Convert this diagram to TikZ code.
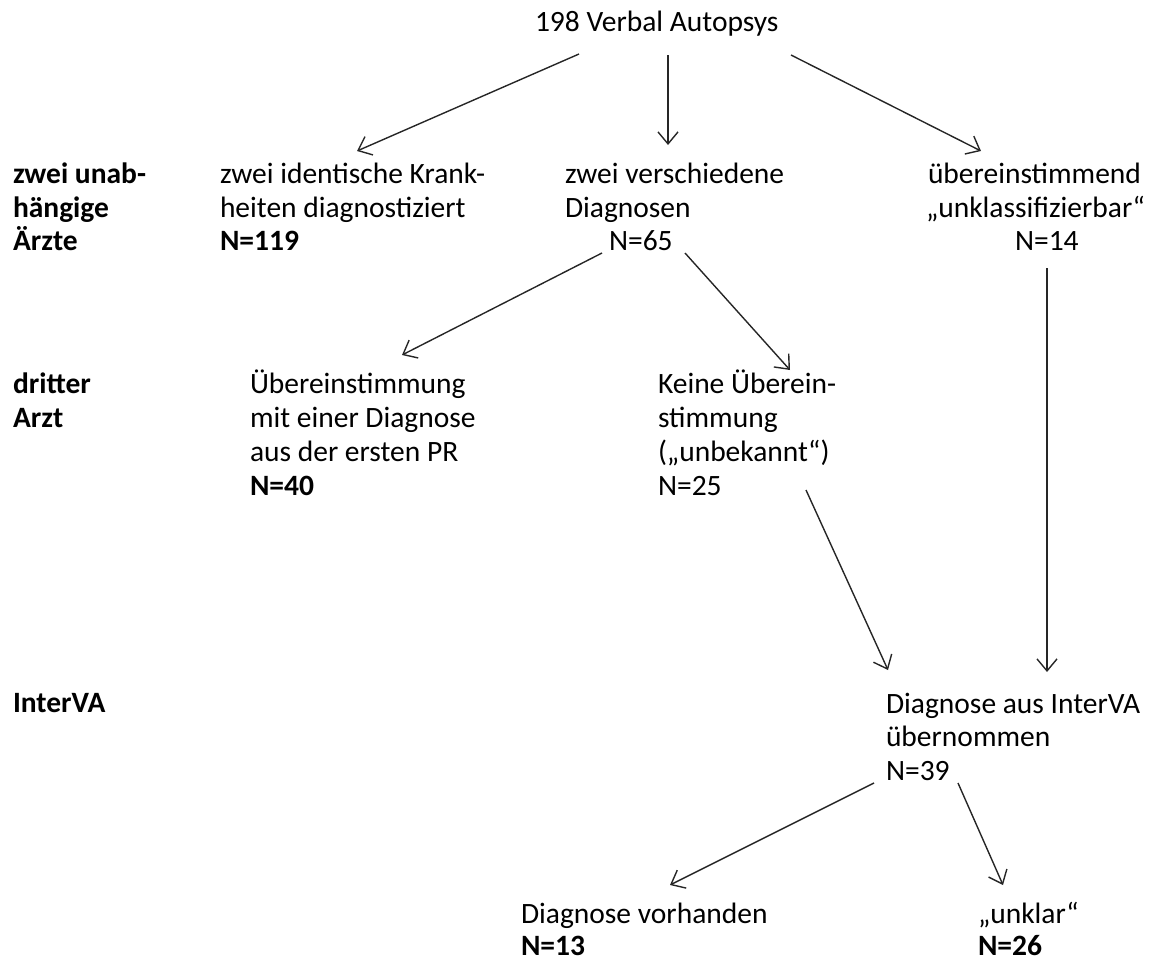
\documentclass[tikz,border=0pt]{standalone}
\usepackage{fontspec}
\setmainfont{Carlito}
\usetikzlibrary{calc,arrows.meta}
\tikzset{
  txt/.style={anchor=base west, inner sep=0pt, outer sep=0pt, font=\fontsize{29.5}{34}\selectfont, text=black},
  btxt/.style={txt, font=\fontsize{29.5}{34}\selectfont\bfseries},
  arr/.style={draw=black!85, line width=1.4pt, -{Straight Barb[length=12pt,width=20pt]}}
}
\begin{document}
\begin{tikzpicture}[x=1pt,y=-1pt]
\useasboundingbox (0,0) rectangle (1157,962);
% top
\node[txt] (top) at (535,31) {198 Verbal Autopsys};
% row labels
\node[btxt] (lA1) at (13,183) {zwei unab-};
\node[btxt] (lA2) at (13,217) {hängige};
\node[btxt] (lA3) at (13,250) {Ärzte};
\node[btxt] (lB1) at (13,393) {dritter};
\node[btxt] (lB2) at (13,427) {Arzt};
\node[btxt] (lC) at (13,712) {InterVA};
% row 1
\node[txt] (id1) at (220,183) {zwei identische Krank-};
\node[txt] (id2) at (220,217) {heiten diagnostiziert};
\node[btxt] (id3) at (220,250) {N=119};
\node[txt] (vs1) at (565,183) {zwei verschiedene};
\node[txt] (vs2) at (565,217) {Diagnosen};
\node[txt] (vs3) at (609,250) {N=65};
\node[txt] (ue1) at (928,183) {übereinstimmend};
\node[txt] (ue2) at (926,217) {„unklassifizierbar“};
\node[txt] (ue3) at (1015,250) {N=14};
% row 2
\node[txt] (ub1) at (250,393) {Übereinstimmung};
\node[txt] (ub2) at (250,427) {mit einer Diagnose};
\node[txt] (ub3) at (250,461) {aus der ersten PR};
\node[btxt] (ub4) at (250,495) {N=40};
\node[txt] (ke1) at (658,393) {Keine Überein-};
\node[txt] (ke2) at (658,427) {stimmung};
\node[txt] (ke3) at (658,461) {(„unbekannt“)};
\node[txt] (ke4) at (658,495) {N=25};
% row 3
\node[txt] (dv1) at (886,713) {Diagnose aus InterVA};
\node[txt] (dv2) at (886,746) {übernommen};
\node[txt] (dv3) at (886,780) {N=39};
% row 4
\node[txt] (vh1) at (521,923) {Diagnose vorhanden};
\node[btxt] (vh2) at (521,955) {N=13};
\node[txt] (uk1) at (978,923) {„unklar“};
\node[btxt] (uk2) at (978,955) {N=26};
% arrows
\draw[arr] ($(top.base west)+(44,23)$) -- ($(id1.base west)+(137,-32)$);
\draw[arr] ($(top.base west)+(133,24)$) -- ($(vs1.base west)+(103,-38)$);
\draw[arr] ($(top.base west)+(256,24)$) -- ($(ue1.base west)+(53,-32)$);
\draw[arr] ($(vs3.base west)+(-7,3)$) -- ($(ub1.base west)+(152,-38)$);
\draw[arr] ($(vs3.base west)+(76,3)$) -- ($(ke1.base west)+(132,-23)$);
\draw[arr] ($(ke4.base west)+(148,-5)$) -- ($(dv1.base west)+(2,-43)$);
\draw[arr] ($(ue3.base west)+(32,18)$) -- ($(dv1.base west)+(161,-41)$);
\draw[arr] ($(dv3.base west)+(-12,3)$) -- ($(vh1.base west)+(149,-38)$);
\draw[arr] ($(dv3.base west)+(72,3)$) -- ($(uk1.base west)+(25,-38)$);
\end{tikzpicture}
\end{document}
